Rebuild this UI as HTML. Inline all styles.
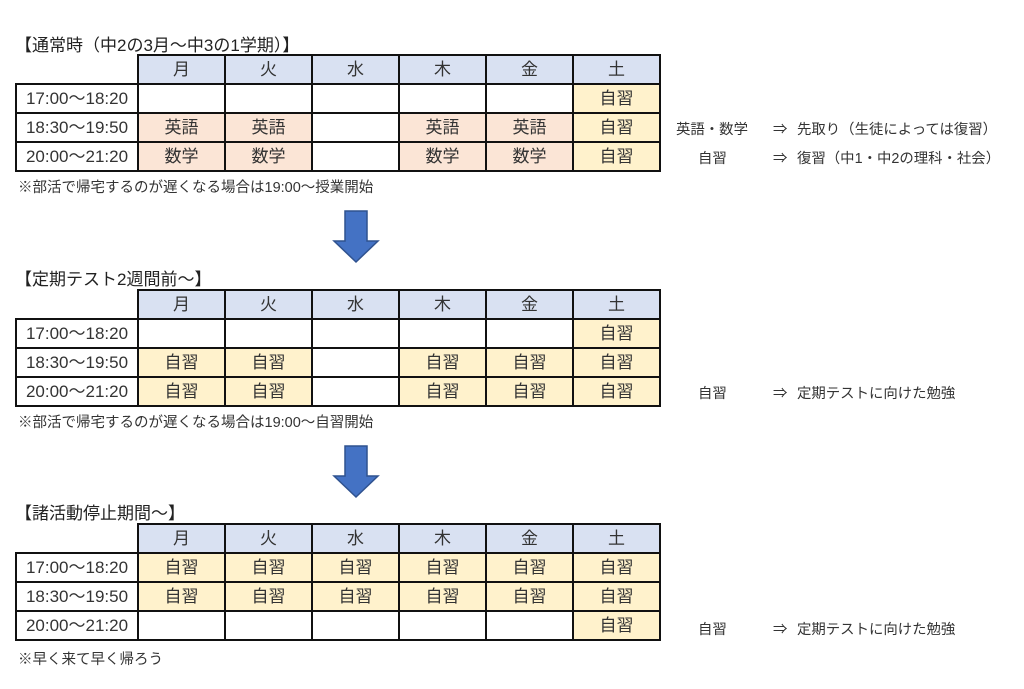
<!DOCTYPE html>
<html><head><meta charset="utf-8"><style>
body{margin:0;width:1024px;height:689px;background:#fff;position:relative;overflow:hidden;font-family:"Liberation Sans","Noto Sans CJK JP",sans-serif;color:#333}
.t{position:absolute;left:15px;border-collapse:collapse;table-layout:fixed}
.t td{border:2px solid #111;height:27px;padding:0;text-align:center;font-size:17px;line-height:27px;width:85px}
.t td.l{width:120px;background:#fff}
.t td.e{border:none;border-bottom:2px solid #111;background:#fff}
.h{background:#d9e1f2}
.y{background:#fff2cc}
.p{background:#fbe5d6}
.tt{position:absolute;left:15px;font-size:17px;color:#222}
.n{position:absolute;left:18px;font-size:14.5px;color:#333}
.r{position:absolute;font-size:14.4px;color:#333;white-space:nowrap}
</style></head><body>
<div class="tt" style="top:31px">【通常時（中2の3月～中3の1学期）】</div>
<table class="t" style="top:54px">
<tr><td class="l e"></td><td class="h">月</td><td class="h">火</td><td class="h">水</td><td class="h">木</td><td class="h">金</td><td class="h">土</td></tr>
<tr><td class="l">17:00～18:20</td><td></td><td></td><td></td><td></td><td></td><td class="y">自習</td></tr>
<tr><td class="l">18:30～19:50</td><td class="p">英語</td><td class="p">英語</td><td></td><td class="p">英語</td><td class="p">英語</td><td class="y">自習</td></tr>
<tr><td class="l">20:00～21:20</td><td class="p">数学</td><td class="p">数学</td><td></td><td class="p">数学</td><td class="p">数学</td><td class="y">自習</td></tr>
</table>
<div class="n" style="top:176px">※部活で帰宅するのが遅くなる場合は19:00～授業開始</div>
<div class="r" style="left:676px;top:118px">英語・数学</div><div class="r" style="left:773px;top:118px">⇒</div><div class="r" style="left:797px;top:118px">先取り（生徒によっては復習）</div>
<div class="r" style="left:698px;top:147px">自習</div><div class="r" style="left:773px;top:147px">⇒</div><div class="r" style="left:797px;top:147px">復習（中1・中2の理科・社会）</div>

<svg style="position:absolute;left:330px;top:209px" width="52" height="56"><polygon points="15,2 37,2 37,32 48,32 26,53 4,32 15,32" fill="#4472c4" stroke="#2f528f" stroke-width="1.5"/></svg>

<div class="tt" style="top:265px">【定期テスト2週間前～】</div>
<table class="t" style="top:289px">
<tr><td class="l e"></td><td class="h">月</td><td class="h">火</td><td class="h">水</td><td class="h">木</td><td class="h">金</td><td class="h">土</td></tr>
<tr><td class="l">17:00～18:20</td><td></td><td></td><td></td><td></td><td></td><td class="y">自習</td></tr>
<tr><td class="l">18:30～19:50</td><td class="y">自習</td><td class="y">自習</td><td></td><td class="y">自習</td><td class="y">自習</td><td class="y">自習</td></tr>
<tr><td class="l">20:00～21:20</td><td class="y">自習</td><td class="y">自習</td><td></td><td class="y">自習</td><td class="y">自習</td><td class="y">自習</td></tr>
</table>
<div class="n" style="top:411px">※部活で帰宅するのが遅くなる場合は19:00～自習開始</div>
<div class="r" style="left:698px;top:382px">自習</div><div class="r" style="left:773px;top:382px">⇒</div><div class="r" style="left:797px;top:382px">定期テストに向けた勉強</div>

<svg style="position:absolute;left:330px;top:444px" width="52" height="56"><polygon points="15,2 37,2 37,32 48,32 26,53 4,32 15,32" fill="#4472c4" stroke="#2f528f" stroke-width="1.5"/></svg>

<div class="tt" style="top:499px">【諸活動停止期間～】</div>
<table class="t" style="top:523px">
<tr><td class="l e"></td><td class="h">月</td><td class="h">火</td><td class="h">水</td><td class="h">木</td><td class="h">金</td><td class="h">土</td></tr>
<tr><td class="l">17:00～18:20</td><td class="y">自習</td><td class="y">自習</td><td class="y">自習</td><td class="y">自習</td><td class="y">自習</td><td class="y">自習</td></tr>
<tr><td class="l">18:30～19:50</td><td class="y">自習</td><td class="y">自習</td><td class="y">自習</td><td class="y">自習</td><td class="y">自習</td><td class="y">自習</td></tr>
<tr><td class="l">20:00～21:20</td><td></td><td></td><td></td><td></td><td></td><td class="y">自習</td></tr>
</table>
<div class="n" style="top:648px">※早く来て早く帰ろう</div>
<div class="r" style="left:698px;top:618px">自習</div><div class="r" style="left:773px;top:618px">⇒</div><div class="r" style="left:797px;top:618px">定期テストに向けた勉強</div>
</body></html>
